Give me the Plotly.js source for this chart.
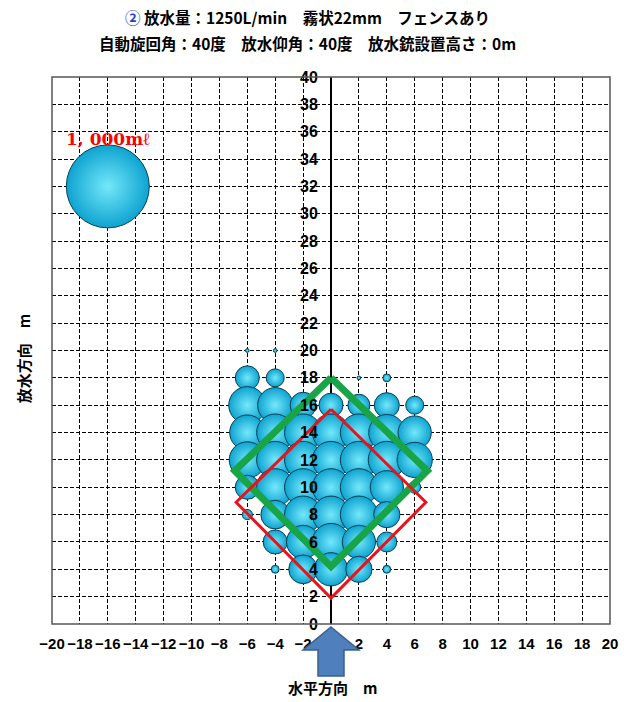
<!DOCTYPE html>
<html><head><meta charset="utf-8">
<script src="https://cdn.plot.ly/plotly-3.0.1.min.js"></script>
<style>html,body{margin:0;padding:0;background:#fff}#chart{width:635px;height:702px}</style>
</head><body><div id="chart"></div>
<script>
// ---- data ----
const bubbleX = [-6,-4, -6,-4,2,4, -6,-4,-2,0,2,4,6, -6,-4,-2,0,2,4,6, -6,-4,-2,0,2,4,6, -6,-4,-2,0,2,4,6, -6,-4,-2,0,2,4, -4,-2,0,2,4, -4,-2,0,2,4];
const bubbleY = [20,20, 18,18,18,18, 16,16,16,16,16,16,16, 14,14,14,14,14,14,14, 12,12,12,12,12,12,12, 10,10,10,10,10,10,10, 8,8,8,8,8,8, 6,6,6,6,6, 4,4,4,4,4];
const bubbleVolume = [2,2, 84,47,2,9, 200,180,98,84,70,91,47, 180,200,200,200,200,190,160, 190,200,200,200,200,200,180, 84,200,200,200,200,160,21, 15,120,200,200,200,100, 84,160,200,160,58, 9,120,160,100,9];

const refX = [-16];
const refY = [32];
const refVolume = [1000];
const refLabel = ['1, 000mℓ'];
const refLabelY = [35.5];

const greenX = [0, 6.9, 0, -6.9, 0];
const greenY = [18, 11.2, 4.2, 11.2, 18];
const redX = [0, 6.8, 0, -6.8, 0];
const redY = [15.7, 8.9, 1.9, 8.9, 15.7];

const xTickVals = [-20,-18,-16,-14,-12,-10,-8,-6,-4,-2,0,2,4,6,8,10,12,14,16,18,20];
const xTickText = ['−20','−18','−16','−14','−12','−10','−8','−6','−4','−2','0','2','4','6','8','10','12','14','16','18','20'];
const yTickVals = [0,2,4,6,8,10,12,14,16,18,20,22,24,26,28,30,32,34,36,38,40];

const titleLine1 = '<span style="color:#1f3fd6">②</span> 放水量：1250L/min　霧状22mm　フェンスあり';
const titleLine2 = '自動旋回角：40度　放水仰角：40度　放水銃設置高さ：0m';
const xTitle = '水平方向　m';
const yTitle = '放水方向　m';

// ---- chart ----
const sizeRef = 2 * 1000 / (83 * 83);
const bubbleMarker = (vals) => ({
  size: vals, sizemode: 'area', sizeref: sizeRef,
  color: '#0ea3d0',
  gradient: {type: 'radial', color: '#74e8fb'},
  line: {color: '#073e52', width: 1},
  opacity: 1
});

const traces = [
  {type: 'scatter', mode: 'markers', x: bubbleX, y: bubbleY, marker: bubbleMarker(bubbleVolume), hoverinfo: 'skip'},
  {type: 'scatter', mode: 'markers', x: refX, y: refY, marker: bubbleMarker(refVolume), cliponaxis: false},
  {type: 'scatter', mode: 'lines', x: greenX, y: greenY, line: {color: '#18a447', width: 7}},
  {type: 'scatter', mode: 'lines', x: redX, y: redY, line: {color: '#e8141b', width: 3}}
];

const gridCommon = {showgrid: true, gridcolor: '#000', griddash: '4px,2px', gridwidth: 1};

const layout = {
  width: 635, height: 702,
  margin: {l: 52, r: 25, t: 77, b: 78},
  paper_bgcolor: '#fff', plot_bgcolor: '#fff',
  showlegend: false,
  xaxis: Object.assign({
    range: [-20, 20], tickvals: xTickVals, ticktext: xTickText,
    tickfont: {family: 'Liberation Sans', size: 15, color: '#000', weight: 'bold'},
    ticks: 'outside', ticklen: 6, tickcolor: 'rgba(0,0,0,0)',
    zeroline: true, zerolinecolor: '#000', zerolinewidth: 1.5,
    showline: false, fixedrange: true
  }, gridCommon),
  yaxis: Object.assign({
    range: [0, 40], tickvals: yTickVals, anchor: 'free', position: 0.5,
    tickfont: {family: 'Liberation Sans', size: 16, color: '#000', weight: 'bold'},
    ticks: 'outside', ticklen: 10, tickcolor: 'rgba(0,0,0,0)',
    zeroline: false, showline: false, fixedrange: true
  }, gridCommon),
  shapes: [
    {type: 'rect', xref: 'paper', yref: 'paper', x0: 0, y0: 0, x1: 1, y1: 1,
     line: {color: '#555', width: 1.5}, layer: 'above'},
    {type: 'path', xref: 'paper', yref: 'paper', layer: 'above',
     path: 'M 0.5,-0.0055 L 0.5502,-0.0475 L 0.5233,-0.0475 L 0.5233,-0.0951 L 0.4767,-0.0951 L 0.4767,-0.0475 L 0.4498,-0.0475 Z',
     fillcolor: '#4f7fbd', line: {color: '#3a5f8c', width: 1.5}}
  ],
  annotations: [
    {xref: 'x', yref: 'y', x: refX[0], y: refLabelY[0], xanchor: 'center', yanchor: 'middle', showarrow: false,
     text: refLabel[0], font: {family: 'DejaVu Serif', size: 17, color: '#ff0000', weight: 'bold'}},
    {xref: 'paper', yref: 'paper', x: 0.457, y: 1.1097, xanchor: 'center', yanchor: 'middle', showarrow: false,
     text: titleLine1, font: {family: 'Noto Sans CJK JP', size: 15.5, color: '#000', weight: 'bold'}},
    {xref: 'paper', yref: 'paper', x: 0.457, y: 1.062, xanchor: 'center', yanchor: 'middle', showarrow: false,
     text: titleLine2, font: {family: 'Noto Sans CJK JP', size: 15.5, color: '#000', weight: 'bold'}},
    {xref: 'paper', yref: 'paper', x: 0.503, y: -0.117, xanchor: 'center', yanchor: 'middle', showarrow: false,
     text: xTitle, font: {family: 'Noto Sans CJK JP', size: 15, color: '#000', weight: 'bold'}},
    {xref: 'paper', yref: 'paper', x: -0.052, y: 0.486, xanchor: 'center', yanchor: 'middle', showarrow: false,
     textangle: -90, text: yTitle, font: {family: 'Noto Sans CJK JP', size: 15, color: '#000', weight: 'bold'}}
  ]
};

Plotly.newPlot('chart', traces, layout, {displayModeBar: false, staticPlot: true});
</script>
</body></html>
